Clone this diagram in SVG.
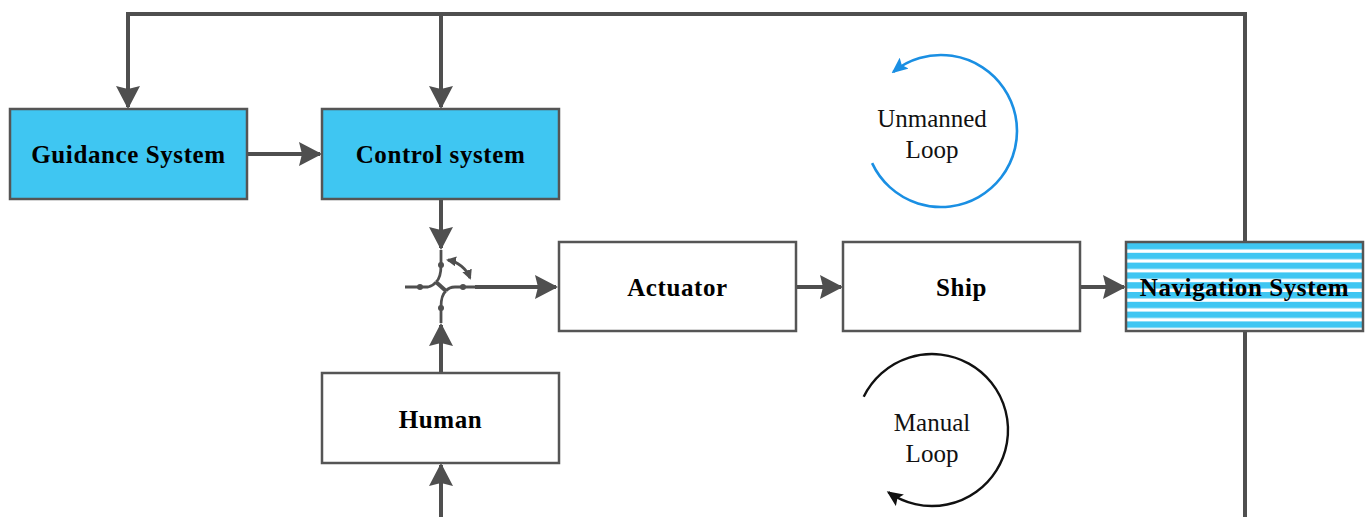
<svg xmlns="http://www.w3.org/2000/svg" width="1368" height="517" viewBox="0 0 1368 517">
<defs>
<style>
.box{stroke:#555;stroke-width:2.5}
.blue{fill:#3fc6f2}
.white{fill:#fff}
.lbl{font-family:"Liberation Serif","Times New Roman",serif;font-weight:bold;font-size:25px;letter-spacing:0.6px;fill:#000;text-anchor:middle}
.loop{font-family:"Liberation Serif","Times New Roman",serif;font-size:25px;fill:#111;text-anchor:middle}
.wire{fill:none;stroke:#4f4f4f;stroke-width:4}
.thin{fill:none;stroke:#4f4f4f;stroke-width:2.8}
.dot{fill:#4f4f4f}
</style>
<marker id="ah" viewBox="0 0 23 24" refX="21" refY="12" markerWidth="23" markerHeight="24" markerUnits="userSpaceOnUse" orient="auto">
<path d="M0,0 L23,12 L0,24 L3,12 Z" fill="#4f4f4f"/>
</marker>
<marker id="sm" viewBox="0 0 10 10" refX="8" refY="5" markerWidth="10" markerHeight="10" markerUnits="userSpaceOnUse" orient="auto-start-reverse">
<path d="M0,0 L10,5 L0,10 Z" fill="#4f4f4f"/>
</marker>
<marker id="bl" viewBox="0 0 16 14" refX="14" refY="7" markerWidth="16" markerHeight="14" markerUnits="userSpaceOnUse" orient="auto">
<path d="M0,0 L16,7 L0,14 L3,7 Z" fill="#1a8fe3"/>
</marker>
<marker id="bk" viewBox="0 0 16 14" refX="14" refY="7" markerWidth="16" markerHeight="14" markerUnits="userSpaceOnUse" orient="auto">
<path d="M0,0 L16,7 L0,14 L3,7 Z" fill="#111"/>
</marker>
<pattern id="stripes" x="0" y="243" width="20" height="9.8" patternUnits="userSpaceOnUse">
<rect x="0" y="0" width="20" height="9.8" fill="#fff"/>
<rect x="0" y="0" width="20" height="6.4" fill="#3fc6f2"/>
</pattern>
</defs>

<g id="connectors">
<path class="wire" d="M1245,242 L1245,14 L128,14 L128,107" marker-end="url(#ah)"/>
<path class="wire" d="M441,14 L441,107" marker-end="url(#ah)"/>
<path class="wire" d="M1245,331 L1245,517"/>
<path class="wire" d="M247,154 L320,154" marker-end="url(#ah)"/>
<path class="wire" d="M441,199 L441,248" marker-end="url(#ah)"/>
<path class="wire" d="M441,517 L441,465" marker-end="url(#ah)"/>
<path class="wire" d="M441,373 L441,325" marker-end="url(#ah)"/>
<path class="wire" d="M475,287 L556,287" marker-end="url(#ah)"/>
<path class="wire" d="M796,287 L841,287" marker-end="url(#ah)"/>
<path class="wire" d="M1080,287 L1124,287" marker-end="url(#ah)"/>
</g>

<g id="switch">
<path class="thin" d="M441,250 L441,265"/>
<path class="thin" d="M441,265 Q441,278 436,282"/>
<path class="thin" d="M405,287 L428,287 Q433,286 436,282"/>
<path class="wire" d="M436,282 L446,291" stroke-width="4.5"/>
<path class="thin" d="M446,291 Q449,287 455,287 L475,287"/>
<path class="thin" d="M446,291 Q441,295 441,307 L441,323"/>
<circle class="dot" cx="441" cy="265" r="3"/>
<circle class="dot" cx="420" cy="287" r="3"/>
<circle class="dot" cx="463" cy="287" r="3"/>
<circle class="dot" cx="441" cy="308" r="3"/>
<path class="thin" d="M448,260 A29,29 0 0 1 470,278" marker-start="url(#sm)" marker-end="url(#sm)"/>
</g>

<g id="guidance">
<rect class="box blue" x="10" y="109" width="237" height="90"/>
<text class="lbl" x="128.5" y="163">Guidance System</text>
</g>
<g id="control">
<rect class="box blue" x="322" y="109" width="237" height="90"/>
<text class="lbl" x="440.5" y="163">Control system</text>
</g>
<g id="actuator">
<rect class="box white" x="559" y="242" width="237" height="89"/>
<text class="lbl" x="677.5" y="296">Actuator</text>
</g>
<g id="ship">
<rect class="box white" x="843" y="242" width="237" height="89"/>
<text class="lbl" x="961.5" y="296">Ship</text>
</g>
<g id="navigation">
<rect class="box" x="1126" y="242" width="237" height="89" fill="url(#stripes)"/>
<text class="lbl" x="1244.5" y="296">Navigation System</text>
</g>
<g id="human">
<rect class="box white" x="322" y="373" width="237" height="90"/>
<text class="lbl" x="440.5" y="428">Human</text>
</g>

<g id="unmanned-loop">
<path d="M872.1,163.1 A76,76 0 1 0 893.2,71.9" fill="none" stroke="#1a8fe3" stroke-width="2.6" marker-end="url(#bl)"/>
<text class="loop" x="932" y="127">Unmanned</text>
<text class="loop" x="932" y="158">Loop</text>
</g>
<g id="manual-loop">
<path d="M863.7,396.7 A76,76 0 1 1 888.4,492.3" fill="none" stroke="#111" stroke-width="2.4" marker-end="url(#bk)"/>
<text class="loop" x="932" y="431">Manual</text>
<text class="loop" x="932" y="462">Loop</text>
</g>
</svg>
